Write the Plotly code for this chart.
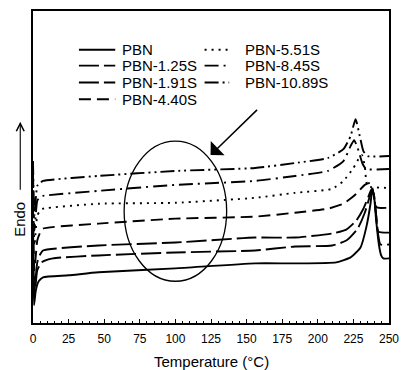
import plotly.graph_objects as go

# ---------------- data (heat flow in arbitrary units) -------------
series_names = ["PBN", "PBN-1.25S", "PBN-1.91S", "PBN-4.40S",
                "PBN-5.51S", "PBN-8.45S", "PBN-10.89S"]

T_PBN = [0, 0.7, 2, 4, 7, 25, 46, 100, 156, 184, 213, 223, 230, 234, 237, 238.3, 239.5, 241, 243, 244.5, 246, 250]
Q_PBN = [73, 18, 33, 42, 46, 48, 51, 55, 60, 60, 61, 66, 76, 96, 120, 135, 128, 103, 78, 68, 65, 65]

T_125 = [0, 1, 3, 6, 14, 46, 100, 156, 184, 210, 220, 228, 233, 236, 238, 239.5, 241, 242.5, 244, 250]
Q_125 = [88, 25, 53, 61, 65, 68, 71, 73, 77, 78, 83, 95, 111, 125, 133, 128, 108, 88, 79, 79]

T_191 = [0, 1, 3, 5, 7, 46, 100, 156, 184, 210, 220, 227, 232, 235.5, 237.8, 239.5, 241, 242.5, 250]
Q_191 = [98, 33, 61, 69, 73, 78, 81, 86, 86, 90, 94, 103, 115, 127, 135, 128, 108, 92, 91]

T_440 = [0, 1, 3, 5, 7, 46, 100, 156, 184, 207, 218, 227, 233, 237, 239, 240.5, 242, 250]
Q_440 = [118, 53, 83, 91, 95, 100, 105, 107, 111, 115, 120, 130, 139, 141, 131, 118, 116, 116]

T_551 = [0, 1, 3, 5, 7, 46, 100, 156, 184, 210, 218, 225, 229, 231, 233, 235, 250]
Q_551 = [138, 78, 108, 113, 115, 120, 121, 126, 131, 135, 143, 156, 166, 169, 158, 138, 136]

T_845 = [0, 1, 3, 5, 7, 46, 100, 156, 184, 207, 218, 223, 225.5, 228, 231.5, 234, 250]
Q_845 = [153, 93, 123, 127, 128, 133, 139, 143, 148, 153, 163, 178, 184, 176, 160, 155, 155]

T_1089 = [0, 1, 3, 5, 7, 46, 100, 156, 184, 207, 218, 223, 226.5, 229.5, 232, 235, 250]
Q_1089 = [163, 108, 138, 141, 143, 148, 153, 156, 161, 166, 175, 188, 205, 188, 173, 168, 168]

x_ticks = [0, 25, 50, 75, 100, 125, 150, 175, 200, 225, 250]

# ---------------- styles -------------
all_T = [T_PBN, T_125, T_191, T_440, T_551, T_845, T_1089]
all_Q = [Q_PBN, Q_125, Q_191, Q_440, Q_551, Q_845, Q_1089]
dash_styles = ["solid", "20px,5px", "20px,5px", "12px,6px", "2px,5px",
               "14px,5px,2px,5px", "14px,4px,2px,4px,2px,4px"]

FONT = "Liberation Sans, Arial, sans-serif"

fig = go.Figure()
for name, t, q, d in zip(series_names, all_T, all_Q, dash_styles):
    fig.add_trace(go.Scatter(
        x=t, y=q, mode="lines", name=name, showlegend=False,
        line=dict(color="black", width=1.9, dash=d, shape="spline", smoothing=0.5),
    ))

# ---------------- hand-made legend (two columns, column-major) -------------
legend_rows = [0.876, 0.825, 0.771, 0.717]
legend_cols = [(0.129, 0.231, 0.245), (0.482, 0.551, 0.590)]
for i, (name, d) in enumerate(zip(series_names, dash_styles)):
    col = 0 if i < 4 else 1
    row = i if i < 4 else i - 4
    x0, x1, xt = legend_cols[col]
    yy = legend_rows[row]
    fig.add_shape(type="line", xref="paper", yref="paper", x0=x0, x1=x1, y0=yy, y1=yy,
                  line=dict(color="black", width=1.9, dash=d))
    fig.add_annotation(xref="paper", yref="paper", x=xt, y=yy, text=name, showarrow=False,
                       xanchor="left", yanchor="middle",
                       font=dict(family=FONT, size=15, color="black"))

# ---------------- ellipse highlighting region and pointing arrow -------------
fig.add_shape(type="circle", xref="x", yref="y", x0=64, x1=136, y0=42, y1=183,
              line=dict(color="black", width=1.3))
fig.add_annotation(xref="x", yref="y", axref="x", ayref="y",
                   x=124.7, y=169, ax=158.4, ay=216, text="", showarrow=True,
                   arrowhead=1, arrowsize=2.2, arrowwidth=1.5, arrowcolor="black")

# ---------------- "Endo" label with arrow -------------
fig.add_annotation(xref="x domain", yref="y domain", axref="x domain", ayref="y domain",
                   x=-0.0358, y=0.645, ax=-0.0358, ay=0.422,
                   text="", showarrow=True,
                   arrowhead=5, arrowsize=1.4, arrowwidth=1.1, arrowcolor="black")
fig.add_annotation(xref="paper", yref="paper", x=-0.040, y=0.333, text="Endo",
                   textangle=-90, showarrow=False, xanchor="center", yanchor="middle",
                   font=dict(family=FONT, size=15, color="black"))

# ---------------- x axis title (placed below tick labels) -------------
fig.add_annotation(xref="paper", yref="paper", x=0.5, y=-0.124, text="Temperature (°C)",
                   showarrow=False, xanchor="center", yanchor="middle",
                   font=dict(family=FONT, size=15, color="black"))

fig.update_layout(
    width=408, height=370,
    margin=dict(l=33, r=12, t=9, b=47),
    paper_bgcolor="white", plot_bgcolor="white",
    font=dict(family=FONT, color="black"),
    showlegend=False,
)
fig.update_xaxes(
    range=[0, 250], tickvals=x_ticks, ticktext=[str(v) for v in x_ticks],
    ticks="inside", ticklen=4, tickwidth=1, tickcolor="black",
    minor=dict(ticks="inside", ticklen=2, dtick=5, tickcolor="black"),
    showline=True, linecolor="black", linewidth=1.5, mirror=True,
    showgrid=False, zeroline=False, ticklabelstandoff=4,
    tickfont=dict(family=FONT, size=12, color="black"),
)
fig.update_yaxes(
    range=[0, 314], showticklabels=False, ticks="",
    showline=True, linecolor="black", linewidth=1.5, mirror=True,
    showgrid=False, zeroline=False,
)

fig.write_html("out.html")
